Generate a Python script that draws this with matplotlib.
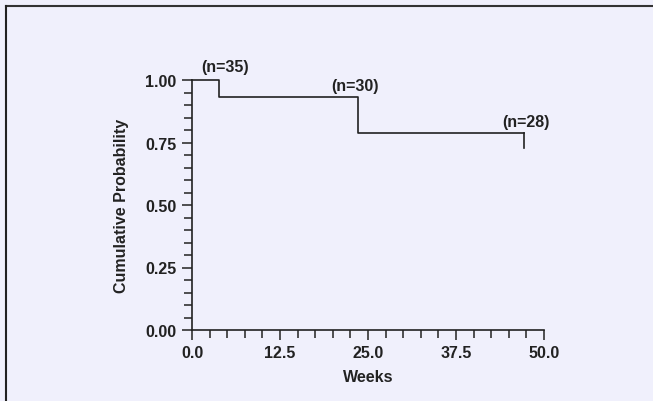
import matplotlib.pyplot as plt
from matplotlib.ticker import MultipleLocator

# step curve (weeks, cumulative probability)
weeks = [0.0, 3.8, 23.6, 47.2]
prob = [1.0, 0.933, 0.790, 0.790]
end_drop = [0.790, 0.728]

# at-risk labels
n_labels = ['(n=35)', '(n=30)', '(n=28)']
n_x = [4.7, 23.2, 47.4]
n_y = [1.025, 0.95, 0.805]

bg = '#F0F0FC'
plt.rcParams['font.family'] = ['Liberation Sans', 'DejaVu Sans']

fig = plt.figure(figsize=(6.53, 4.02), dpi=100, facecolor=bg)
ax = fig.add_axes([192 / 653, 1 - 331 / 402, 352 / 653, 250 / 402])
ax.set_facecolor(bg)

ax.step(weeks, prob, where='post', color='#222222', lw=1.2, clip_on=False)
ax.plot([weeks[-1], weeks[-1]], end_drop, color='#222222', lw=1.2, clip_on=False)

for t, x, y in zip(n_labels, n_x, n_y):
    ax.text(x, y, t, ha='center', va='bottom', fontsize=11.5, fontweight='bold', color='#222222')

ax.set_xlim(0, 50)
ax.set_ylim(0, 1.0)
ax.xaxis.set_major_locator(MultipleLocator(12.5))
ax.xaxis.set_minor_locator(MultipleLocator(2.5))
ax.yaxis.set_major_locator(MultipleLocator(0.25))
ax.yaxis.set_minor_locator(MultipleLocator(0.05))
ax.xaxis.set_major_formatter(plt.FormatStrFormatter('%.1f'))
ax.yaxis.set_major_formatter(plt.FormatStrFormatter('%.2f'))

for s in ['top', 'right']:
    ax.spines[s].set_visible(False)
for s in ['left', 'bottom']:
    ax.spines[s].set_color('#222222')
    ax.spines[s].set_linewidth(1.2)

ax.tick_params(which='major', length=7, width=1.2, color='#333333', labelsize=11.5, pad=4)
ax.tick_params(which='minor', length=6, width=1.2, color='#333333')
for lab in ax.get_xticklabels() + ax.get_yticklabels():
    lab.set_fontweight('bold')
    lab.set_color('#222222')

ax.set_xlabel('Weeks', fontsize=11.5, fontweight='bold', color='#222222', labelpad=6)
ax.set_ylabel('Cumulative Probability', fontsize=11.5, fontweight='bold', color='#222222', labelpad=12)

# frame lines at top and left of the figure
fig.add_artist(plt.Line2D([6 / 653, 1], [1 - 7 / 402, 1 - 7 / 402], transform=fig.transFigure, color='#333333', lw=1.5))
fig.add_artist(plt.Line2D([6 / 653, 6 / 653], [0, 1 - 7 / 402], transform=fig.transFigure, color='#222222', lw=1.5))

fig.savefig('out.png', dpi=100, facecolor=bg)
